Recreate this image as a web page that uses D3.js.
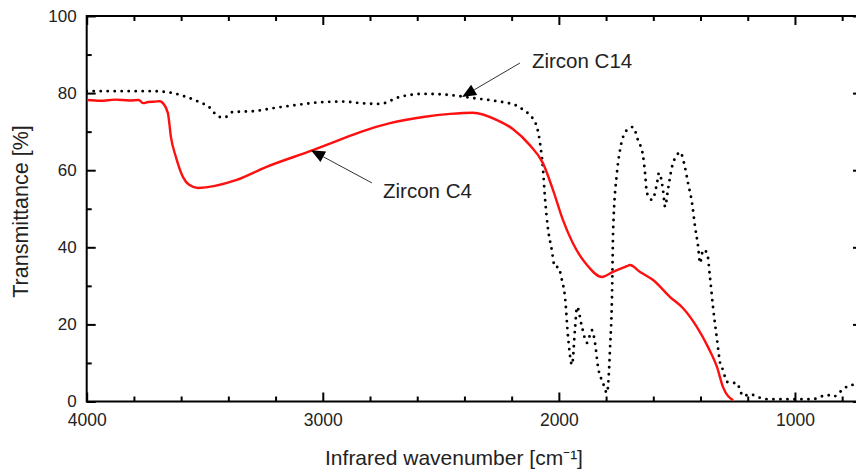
<!DOCTYPE html>
<html>
<head>
<meta charset="utf-8">
<script src="https://cdn.jsdelivr.net/npm/d3@7"></script>
<style>
  html, body { margin: 0; padding: 0; background: #fff; }
  svg { display: block; font-family: Arial, "Liberation Sans", sans-serif; }
</style>
</head>
<body>
<svg id="chart"></svg>
<script>
const width = 856;
const height = 470;

// Zircon C4 (red line): wavenumber [cm-1], transmittance [%]
const c4Wave = [4000, 3940, 3880, 3820, 3780, 3760, 3740, 3710, 3690, 3677, 3656, 3643, 3622, 3592, 3566, 3529,
  3368, 3241, 3042, 2902, 2842, 2715, 2575, 2461, 2364, 2262, 2195, 2123, 2068, 2025, 1983, 1941, 1881,
  1818, 1771, 1712, 1699, 1656, 1601, 1529, 1474, 1415, 1368, 1330, 1305, 1262];
const c4Trans = [78.2, 78.0, 78.3, 78.1, 78.2, 77.4, 77.7, 77.8, 77.9, 77.4, 74.8, 68.5, 63.4, 58.2, 56.2, 55.4,
  57.4, 60.8, 65.2, 68.5, 69.9, 72.2, 73.8, 74.6, 74.9, 73.0, 70.7, 66.5, 61.9, 54.9, 47.1, 41.1, 35.4,
  32.3, 33.6, 35.1, 35.4, 33.6, 31.5, 27.1, 24.2, 19.3, 14.1, 8.9, 3.8, 0.3];

// Zircon C14 (dotted line)
const c14Wave = [4000, 3719, 3634, 3579, 3524, 3482, 3444, 3418, 3380, 3295, 3210, 3113, 3016, 2914, 2842, 2758,
  2673, 2575, 2461, 2364, 2262, 2177, 2152, 2123, 2093, 2080, 2068, 2059, 2047, 2030, 2017, 2004, 1987,
  1974, 1961, 1944, 1932, 1923, 1902, 1881, 1860, 1847, 1834, 1813, 1796, 1783, 1775, 1770, 1754, 1741,
  1712, 1686, 1665, 1644, 1635, 1627, 1605, 1584, 1576, 1559, 1550, 1538, 1521, 1500, 1487, 1466, 1453,
  1436, 1423, 1410, 1402, 1389, 1372, 1360, 1347, 1330, 1317, 1305, 1288, 1266, 1245, 1233, 1220, 1190,
  1160, 1118, 1033, 924, 894, 864, 838, 809, 788, 767, 746, 716];
const c14Trans = [80.5, 80.5, 80.0, 79.0, 77.7, 76.4, 74.0, 73.6, 75.1, 75.3, 76.1, 76.9, 77.6, 77.8, 77.4, 77.2,
  79.0, 79.8, 79.5, 78.7, 77.9, 76.7, 75.7, 74.3, 71.2, 67.1, 60.8, 53.0, 45.3, 39.3, 34.9, 34.9, 31.5,
  27.1, 16.7, 9.5, 18.5, 24.5, 19.3, 15.2, 18.5, 15.2, 8.9, 4.8, 2.2, 14.1, 27.1, 44.5, 59.3, 65.2,
  70.4, 71.2, 67.8, 63.9, 59.3, 54.1, 52.3, 56.7, 59.3, 54.9, 50.5, 54.9, 60.8, 63.9, 64.7, 60.8, 56.7,
  51.5, 45.3, 40.1, 35.9, 39.3, 38.5, 32.3, 24.5, 16.0, 10.0, 8.2, 5.1, 4.8, 4.8, 3.0, 1.4, 1.9,
  1.2, 0.6, 0.6, 0.6, 1.2, 1.7, 1.2, 2.5, 3.5, 4.3, 4.3, 4.3];

const xMajor = [4000, 3000, 2000, 1000];
const xMinor = [3800, 3600, 3400, 3200, 2800, 2600, 2400, 2200, 1800, 1600, 1400, 1200, 800];
const yMajor = [0, 20, 40, 60, 80, 100];
const yMinor = [10, 30, 50, 70, 90];

// annotation: label, text anchor point, arrow tail, arrow tip (data coords)
const noteLabels = ["Zircon C14", "Zircon C4"];
const noteText = [[2114, 86.5], [2745, 52.8]];
const noteTail = [[2165, 87.8], [2792, 56.7]];
const noteTip = [[2410, 79.0], [3050, 65.2]];

const svg = d3.select('#chart')
    .attr('width', width)
    .attr('height', height);

const margin = { left: 86.7, top: 16, right: 862, bottom: 401.5 };

const x = d3.scaleLinear().domain([4000, 716]).range([margin.left, margin.right]);
const y = d3.scaleLinear().domain([0, 100]).range([margin.bottom, margin.top]);

svg.append('defs').append('clipPath').attr('id', 'plot-clip')
    .append('rect')
    .attr('x', margin.left).attr('y', margin.top - 2)
    .attr('width', margin.right - margin.left).attr('height', margin.bottom - margin.top + 2);

// tick helper: remove domain path, style ticks
function styleAxis(sel) {
    sel.select('.domain').remove();
    sel.selectAll('.tick line').attr('stroke', '#000').attr('stroke-width', 2);
    sel.selectAll('.tick text').attr('fill', '#222');
}

// bottom axis (ticks inward)
svg.append('g')
    .attr('transform', `translate(0,${margin.bottom})`)
    .call(d3.axisBottom(x).tickValues(xMajor).tickSize(-9).tickPadding(12).tickFormat(d3.format('d')))
    .call(styleAxis)
    .selectAll('text').style('font-size', '17.5px');
svg.append('g')
    .attr('transform', `translate(0,${margin.bottom})`)
    .call(d3.axisBottom(x).tickValues(xMinor).tickSize(-5).tickFormat(''))
    .call(styleAxis);

// top axis
svg.append('g')
    .attr('transform', `translate(0,${margin.top})`)
    .call(d3.axisTop(x).tickValues(xMajor).tickSize(-9).tickFormat(''))
    .call(styleAxis);
svg.append('g')
    .attr('transform', `translate(0,${margin.top})`)
    .call(d3.axisTop(x).tickValues(xMinor).tickSize(-5).tickFormat(''))
    .call(styleAxis);

// left axis
svg.append('g')
    .attr('transform', `translate(${margin.left},0)`)
    .call(d3.axisLeft(y).tickValues(yMajor).tickSize(-9).tickPadding(10))
    .call(styleAxis)
    .selectAll('text').style('font-size', '17px');
svg.append('g')
    .attr('transform', `translate(${margin.left},0)`)
    .call(d3.axisLeft(y).tickValues(yMinor).tickSize(-5).tickFormat(''))
    .call(styleAxis);

// right axis
svg.append('g')
    .attr('transform', `translate(${margin.right},0)`)
    .call(d3.axisRight(y).tickValues(yMajor).tickSize(-9).tickFormat(''))
    .call(styleAxis);
svg.append('g')
    .attr('transform', `translate(${margin.right},0)`)
    .call(d3.axisRight(y).tickValues(yMinor).tickSize(-5).tickFormat(''))
    .call(styleAxis);

// frame
svg.append('rect')
    .attr('x', margin.left).attr('y', margin.top)
    .attr('width', margin.right - margin.left).attr('height', margin.bottom - margin.top)
    .attr('fill', 'none').attr('stroke', '#000').attr('stroke-width', 2);

const line = d3.line()
    .x(d => x(d[0]))
    .y(d => y(d[1]))
    .curve(d3.curveMonotoneX);

const plot = svg.append('g').attr('clip-path', 'url(#plot-clip)');

plot.append('path')
    .datum(c14Wave.map((w, i) => [w, c14Trans[i]]))
    .attr('d', line)
    .attr('fill', 'none')
    .attr('stroke', '#000')
    .attr('stroke-width', 2.9)
    .attr('stroke-linecap', 'round')
    .attr('stroke-dasharray', '0 7');

plot.append('path')
    .datum(c4Wave.map((w, i) => [w, c4Trans[i]]))
    .attr('d', line)
    .attr('fill', 'none')
    .attr('stroke', '#ff1010')
    .attr('stroke-width', 2.4);

// annotations with arrows
for (let i = 0; i < noteLabels.length; i++) {
    const tx = x(noteTail[i][0]), ty = y(noteTail[i][1]);
    const hx = x(noteTip[i][0]), hy = y(noteTip[i][1]);
    const ang = Math.atan2(hy - ty, hx - tx);
    const len = 14, half = 6;
    const bx = hx - len * Math.cos(ang), by = hy - len * Math.sin(ang);
    svg.append('line')
        .attr('x1', tx).attr('y1', ty)
        .attr('x2', bx).attr('y2', by)
        .attr('stroke', '#333').attr('stroke-width', 1);
    svg.append('polygon')
        .attr('points', [
            [hx, hy],
            [bx + half * Math.sin(ang), by - half * Math.cos(ang)],
            [bx - half * Math.sin(ang), by + half * Math.cos(ang)]
        ].map(p => p.join(',')).join(' '))
        .attr('fill', '#000');
    svg.append('text')
        .attr('x', x(noteText[i][0]))
        .attr('y', y(noteText[i][1]))
        .attr('fill', '#222')
        .style('font-size', '20.5px')
        .text(noteLabels[i]);
}

// axis titles
svg.append('text')
    .attr('x', 454)
    .attr('y', 465)
    .attr('text-anchor', 'middle')
    .attr('fill', '#222')
    .style('font-size', '21px')
    .text('Infrared wavenumber [cm⁻¹]');

svg.append('text')
    .attr('transform', 'translate(28,211.5) rotate(-90)')
    .attr('text-anchor', 'middle')
    .attr('fill', '#222')
    .style('font-size', '21.5px')
    .text('Transmittance [%]');
</script>
</body>
</html>
